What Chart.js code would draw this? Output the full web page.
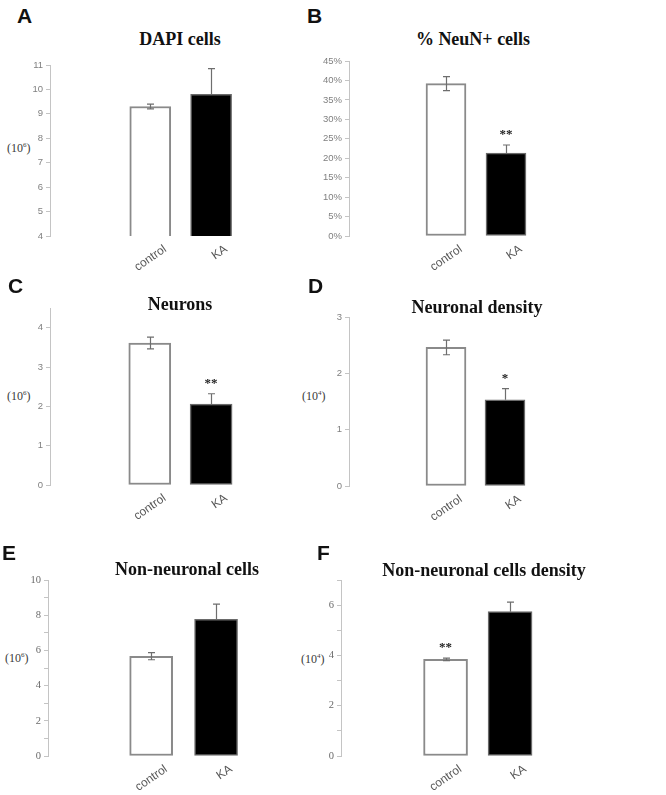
<!DOCTYPE html>
<html>
<head>
<meta charset="utf-8">
<script src="https://cdn.jsdelivr.net/npm/chart.js@4.4.1/dist/chart.umd.min.js"></script>
<style>
  body { margin: 0; background: #fff; }
  #wrap { position: relative; width: 666px; height: 795px; overflow: hidden; }
  canvas { position: absolute; }
  .letter { position: absolute; font: bold 21px "Liberation Sans", Arial, sans-serif; line-height: 21px; color: #111; }
  .title { position: absolute; width: 300px; text-align: center; font: bold 18px "Liberation Serif", "Times New Roman", serif; line-height: 18px; color: #111; white-space: nowrap; }
  .unit { position: absolute; font: 12px "Liberation Serif", "Times New Roman", serif; line-height: 12px; color: #3a3a3a; }
  .unit sup { font-size: 7px; vertical-align: 5px; line-height: 0; }
</style>
</head>
<body>
<div id="wrap"></div>
<script>
/*
 Six small bar charts (control vs KA) with SEM error bars.
*/

// ---- data ----
var categories = ['control', 'KA'];

var dapiMean = [9.3, 9.8];
var dapiSem = [0.1, 1.05];
var dapiTicks = [4, 11, 1];          // min, max, step
var dapiStars = ['', ''];

var neunMean = [39.2, 21.3];
var neunSem = [1.8, 2.1];
var neunTicks = [0, 45, 5];
var neunStars = ['', '**'];

var neuronMean = [3.61, 2.06];
var neuronSem = [0.15, 0.26];
var neuronTicks = [0, 4.5, 1];
var neuronStars = ['', '**'];

var densityMean = [2.46, 1.53];
var densitySem = [0.13, 0.2];
var densityTicks = [0, 3, 1];
var densityStars = ['', '*'];

var nonNeuronMean = [5.67, 7.76];
var nonNeuronSem = [0.2, 0.87];
var nonNeuronTicks = [0, 10, 1];     // labels only every 2
var nonNeuronStars = ['', ''];

var nonDensityMean = [3.84, 5.74];
var nonDensitySem = [0.05, 0.38];
var nonDensityTicks = [0, 7, 1];
var nonDensityStars = ['**', ''];

var barFill = ['#ffffff', '#000000'];

// ---- layout of each panel (pixels) ----
// axisX: y axis line, yTop/yBottom: pixel of axis max/min,
// gap: axis to first category, step: distance between categories
var panels = [
  { letter: 'A', lx: 17, ly: 5, title: 'DAPI cells', tx: 180, ty: 30, unit: '6', ux: 7, uy: 142,
    axisX: 50, yTop: 65, yBottom: 236, gap: 100.5, step: 61, barW: 41, serif: false,
    mean: dapiMean, sem: dapiSem, ticks: dapiTicks, stars: dapiStars, every: 1, pct: false },
  { letter: 'B', lx: 307, ly: 5, title: '% NeuN+ cells', tx: 473, ty: 30, unit: null,
    axisX: 349, yTop: 61, yBottom: 236, gap: 97, step: 60, barW: 40, serif: false,
    mean: neunMean, sem: neunSem, ticks: neunTicks, stars: neunStars, every: 1, pct: true },
  { letter: 'C', lx: 8, ly: 275, title: 'Neurons', tx: 180, ty: 295, unit: '6', ux: 7, uy: 390,
    axisX: 50, yTop: 308, yBottom: 485, gap: 100, step: 61.5, barW: 42, serif: false,
    mean: neuronMean, sem: neuronSem, ticks: neuronTicks, stars: neuronStars, every: 1, pct: false },
  { letter: 'D', lx: 308, ly: 275, title: 'Neuronal density', tx: 477, ty: 298, unit: '4', ux: 302, uy: 390,
    axisX: 349, yTop: 317, yBottom: 486, gap: 97, step: 59, barW: 40, serif: false,
    mean: densityMean, sem: densitySem, ticks: densityTicks, stars: densityStars, every: 1, pct: false },
  { letter: 'E', lx: 2, ly: 542, title: 'Non-neuronal cells', tx: 187, ty: 560, unit: '6', ux: 5, uy: 652,
    axisX: 48, yTop: 580, yBottom: 756, gap: 103.3, step: 65, barW: 43, serif: true,
    mean: nonNeuronMean, sem: nonNeuronSem, ticks: nonNeuronTicks, stars: nonNeuronStars, every: 2, pct: false },
  { letter: 'F', lx: 317, ly: 542, title: 'Non-neuronal cells density', tx: 484, ty: 561, unit: '4', ux: 301, uy: 653,
    axisX: 341, yTop: 580, yBottom: 756, gap: 104.7, step: 64.6, barW: 44, serif: true,
    mean: nonDensityMean, sem: nonDensitySem, ticks: nonDensityTicks, stars: nonDensityStars, every: 2, pct: false }
];

var Y_W = 40, PAD_T = 10, PAD_R = 10, X_H = 50, RIGHT_EXTRA = 45;

// error bars + significance stars
var errorBars = {
  id: 'errorBars',
  afterDatasetsDraw: function (chart) {
    var ctx = chart.ctx;
    var yScale = chart.scales.y;
    var ds = chart.data.datasets[0];
    var meta = chart.getDatasetMeta(0);
    meta.data.forEach(function (bar, i) {
      var v = ds.data[i].y, e = ds.sem[i];
      var top = yScale.getPixelForValue(v + e);
      var bot = yScale.getPixelForValue(v - e);
      var both = ds.backgroundColor[i] === '#ffffff';
      var x = Math.round(bar.x) + 0.5;
      ctx.save();
      ctx.strokeStyle = '#6e6e6e';
      ctx.lineWidth = 1.2;
      ctx.beginPath();
      ctx.moveTo(x, top);
      ctx.lineTo(x, both ? bot : bar.y);
      ctx.moveTo(x - 3.5, top);
      ctx.lineTo(x + 3.5, top);
      if (both) {
        ctx.moveTo(x - 3.5, bot);
        ctx.lineTo(x + 3.5, bot);
      }
      ctx.stroke();
      if (ds.stars[i]) {
        ctx.fillStyle = '#222';
        ctx.font = 'bold 13px "Liberation Serif", serif';
        ctx.textAlign = 'center';
        ctx.textBaseline = 'alphabetic';
        ctx.fillText(ds.stars[i], bar.x, top - 7);
      }
      ctx.restore();
    });
  }
};

var wrap = document.getElementById('wrap');

function addDiv(cls, html, left, top) {
  var d = document.createElement('div');
  d.className = cls;
  d.innerHTML = html;
  d.style.left = left + 'px';
  d.style.top = top + 'px';
  wrap.appendChild(d);
}

panels.forEach(function (p) {
  addDiv('letter', p.letter, p.lx, p.ly);
  addDiv('title', p.title, p.tx - 150, p.ty);
  if (p.unit) addDiv('unit', '(10<sup>' + p.unit + '</sup>)', p.ux, p.uy);

  var cv = document.createElement('canvas');
  var w = Y_W + p.gap + p.step + RIGHT_EXTRA + PAD_R;
  var h = (p.yBottom - p.yTop) + PAD_T + X_H;
  cv.width = w;
  cv.height = h;
  cv.style.left = (p.axisX - Y_W) + 'px';
  cv.style.top = (p.yTop - PAD_T) + 'px';
  wrap.appendChild(cv);

  var points = p.mean.map(function (m, i) { return { x: i + 1, y: m }; });
  var tickFont = p.serif
    ? { family: '"Liberation Serif", "Times New Roman", serif', size: 10.5 }
    : { family: '"Liberation Sans", Arial, sans-serif', size: 9.5 };

  new Chart(cv.getContext('2d'), {
    type: 'bar',
    data: {
      datasets: [{
        data: points,
        sem: p.sem,
        stars: p.stars,
        backgroundColor: barFill,
        borderColor: ['#8a8a8a', '#6a6a6a'],
        borderWidth: [2, 1.5],
        borderSkipped: false,
        barThickness: p.barW
      }]
    },
    options: {
      responsive: false,
      animation: false,
      events: [],
      layout: { padding: { top: PAD_T, right: PAD_R, left: 0, bottom: 0 } },
      plugins: { legend: { display: false }, tooltip: { enabled: false } },
      scales: {
        x: {
          type: 'linear',
          offset: false,
          min: 1 - p.gap / p.step,
          max: 2 + RIGHT_EXTRA / p.step,
          grid: { display: false, offset: false, drawTicks: false },
          border: { display: false },
          afterBuildTicks: function (scale) {
            scale.ticks = categories.map(function (c, i) { return { value: i + 1 }; });
          },
          afterFit: function (scale) { scale.height = X_H; },
          ticks: {
            autoSkip: false,
            minRotation: 35,
            maxRotation: 35,
            padding: 6,
            labelOffset: 15,
            color: '#595959',
            font: { family: '"Liberation Sans", Arial, sans-serif', size: 12 },
            callback: function (v) { return categories[v - 1]; }
          }
        },
        y: {
          min: p.ticks[0],
          max: p.ticks[1],
          afterBuildTicks: function (scale) {
            scale.ticks = scale.ticks.filter(function (t) {
              return Math.abs(t.value - Math.round(t.value / p.ticks[2]) * p.ticks[2]) < 1e-9;
            });
          },
          afterFit: function (scale) { scale.width = Y_W; },
          border: { display: true, color: '#c4c4c4', width: 1 },
          grid: { drawOnChartArea: false, drawTicks: true, tickLength: 4, color: '#c4c4c4' },
          ticks: {
            stepSize: p.ticks[2],
            padding: 3,
            color: p.serif ? '#6a6a6a' : '#808080',
            font: tickFont,
            callback: function (v) {
              if (Math.round(v) % p.every !== 0) return '';
              return p.pct ? v + '%' : v;
            }
          }
        }
      }
    },
    plugins: [errorBars]
  });
});
</script>
</body>
</html>
